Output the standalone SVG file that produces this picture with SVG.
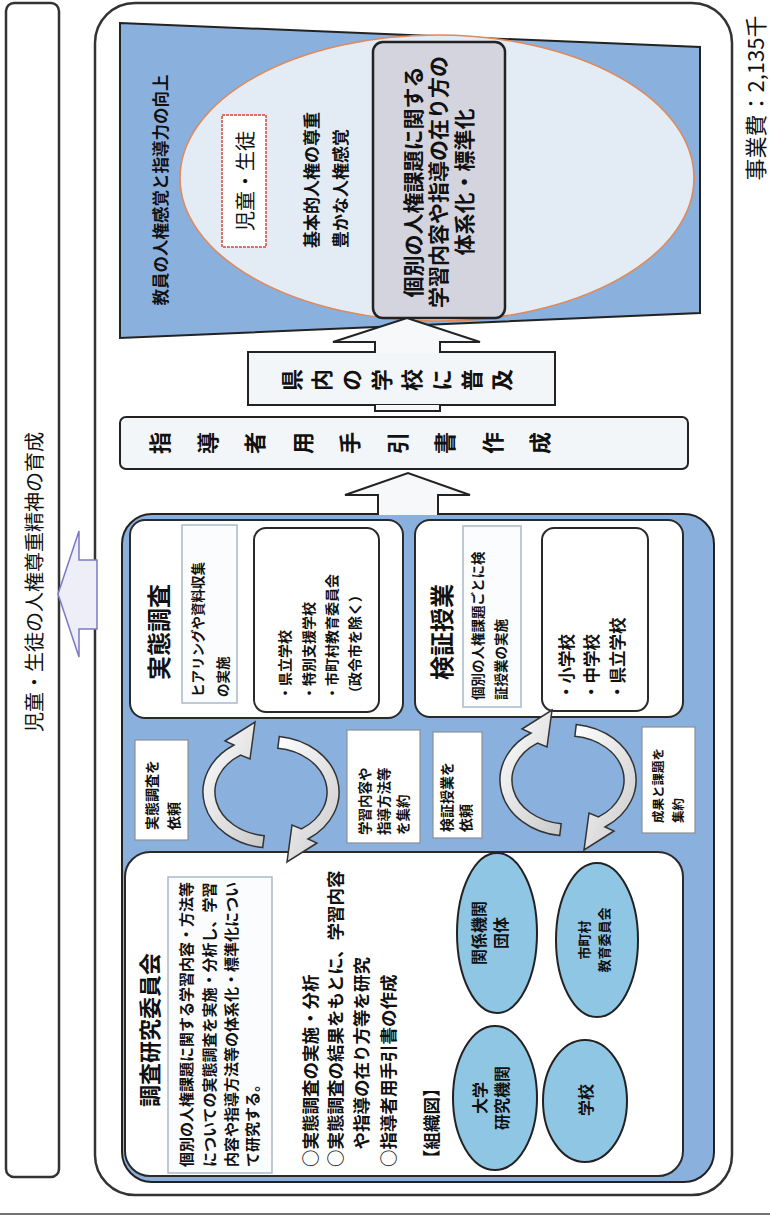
<svg xmlns="http://www.w3.org/2000/svg" width="770" height="1229" viewBox="0 0 770 1229">
<defs>
<style>
.t{font-family:'Noto Sans CJK JP','Noto Sans CJK SC',sans-serif;fill:#111;dominant-baseline:central}
.v{font-family:'Noto Sans CJK JP','Noto Sans CJK SC',sans-serif;fill:#111;writing-mode:vertical-rl;text-orientation:upright;font-weight:bold}
.b{font-weight:bold}
.frame{fill:#fff;stroke:#333;stroke-width:2.5}
.blue{fill:#8ab0de;stroke:#222;stroke-width:2}
.box{fill:#fff;stroke:#2a2a2a;stroke-width:2}
.lbl{fill:#fff;stroke:#8a8f96;stroke-width:1.2}
.sub{fill:#fbfcfd;stroke:#a9b9c9;stroke-width:1.5}
.org{fill:#8fc6e4;stroke:#222;stroke-width:2}
.blk{fill:#f3f6f8;stroke:#222;stroke-width:2}
.arc{fill:url(#arcg);stroke:#333;stroke-width:1.5}
</style>
<linearGradient id="arcg" x1="0" y1="0" x2="1" y2="1"><stop offset="0" stop-color="#ffffff"/><stop offset="1" stop-color="#c9c9c9"/></linearGradient>
<g id="cycle">
<path class="arc" d="M262.7,847.6 A68,56 0 0 1 234,745 L225,741 L255,722 L250,759 L240.5,755.1 A56,44 0 0 0 264.2,835.7 Z"/>
<path class="arc" d="M279.3,736.4 A68,56 0 0 1 308,839 L317,843 L287,862 L292,825 L301.5,828.9 A56,44 0 0 0 277.8,748.3 Z"/>
</g>
</defs>
<rect width="770" height="1229" fill="#fff"/>
<line x1="0" y1="1214" x2="770" y2="1214" stroke="#444" stroke-width="1.5"/>

<g id="title-band">
<rect class="frame" x="6" y="3" width="53" height="1174" rx="8"/>
<text class="t" transform="translate(33,582) rotate(-90)" font-size="20" text-anchor="middle">児童・生徒の人権尊重精神の育成</text>
</g>

<g id="cost">
<text class="t" transform="translate(754,98) rotate(-90)" font-size="22" text-anchor="middle">事業費：2,135千</text>
</g>

<g id="outer-frame">
<rect class="frame" x="95" y="3" width="637" height="1192" rx="40"/>
</g>

<g id="goal-area">
<polygon class="blue" points="120,23 700,47 700,313 120,338"/>
<ellipse cx="437" cy="178" rx="257" ry="143" fill="#e3ecf5" stroke="#e0895a" stroke-width="1.6"/>
<text class="t b" transform="translate(160,190) rotate(-90)" font-size="16.5" text-anchor="middle" fill="#222">教員の人権感覚と指導力の向上</text>
<rect x="222" y="115" width="44" height="132" fill="#fff" stroke="#d9473a" stroke-width="1.5" stroke-dasharray="3,1"/>
<text class="t" transform="translate(244,181) rotate(-90)" font-size="20" text-anchor="middle">児童・生徒</text>
<text class="t b" transform="translate(310,248) rotate(-90)" font-size="17"><tspan x="0" y="0">基本的人権の尊重</tspan><tspan x="0" y="29">豊かな人権感覚</tspan></text>
</g>

<g id="systematize-box">
<rect x="373" y="42" width="132" height="276" rx="10" fill="#d4d4df" stroke="#222" stroke-width="2.5"/>
<text class="t b" transform="translate(412,182) rotate(-90)" font-size="21" text-anchor="middle"><tspan x="0" y="0">個別の人権課題に関する</tspan><tspan x="0" y="25">学習内容や指導の在り方の</tspan><tspan x="0" y="51">体系化・標準化</tspan></text>
</g>

<g id="spread-box">
<rect class="blk" x="248" y="352" width="307" height="53" stroke-width="1.8"/>
<text class="v" transform="translate(281,380) rotate(-90)" x="0" y="0" font-size="22" letter-spacing="8">県内の学校に普及</text>
</g>

<g id="guide-box">
<rect class="blk" x="120" y="417" width="568" height="52" rx="6"/>
<text class="v" transform="translate(149,443) rotate(-90)" x="0" y="0" font-size="22" letter-spacing="25.5">指導者用手引書作成</text>
</g>

<g id="panel">
<rect class="blue" x="122" y="514" width="592" height="668" rx="30"/>
</g>

<g id="survey-box">
<rect class="box" x="130" y="520" width="273" height="198" rx="15"/>
<text class="t b" transform="translate(157,632) rotate(-90)" font-size="24" text-anchor="middle">実態調査</text>
<rect class="sub" x="182" y="525" width="55" height="178"/>
<text class="t b" transform="translate(197,697) rotate(-90)" font-size="13.5"><tspan x="0" y="0">ヒアリングや資料収集</tspan><tspan x="0" y="25">の実施</tspan></text>
<rect class="box" x="254" y="528" width="125" height="184" rx="12"/>
<text class="t b" transform="translate(284,700) rotate(-90)" font-size="14"><tspan x="0" y="0">・県立学校</tspan><tspan x="0" y="24">・特別支援学校</tspan><tspan x="0" y="47">・市町村教育委員会</tspan><tspan x="0" y="70">（政令市を除く）</tspan></text>
</g>

<g id="verify-box">
<rect class="box" x="415" y="520" width="268" height="197" rx="15"/>
<text class="t b" transform="translate(440,632) rotate(-90)" font-size="24" text-anchor="middle">検証授業</text>
<rect class="sub" x="463" y="526" width="58" height="181"/>
<text class="t b" transform="translate(477,700) rotate(-90)" font-size="13.5"><tspan x="0" y="0">個別の人権課題ごとに検</tspan><tspan x="0" y="23">証授業の実施</tspan></text>
<rect class="box" x="542" y="528" width="106" height="183" rx="12"/>
<text class="t b" transform="translate(566,700) rotate(-90)" font-size="16.5"><tspan x="0" y="0">・小学校</tspan><tspan x="0" y="25">・中学校</tspan><tspan x="0" y="51">・県立学校</tspan></text>
</g>

<g id="label-request-survey">
<rect class="lbl" x="135" y="740" width="53" height="100"/>
<text class="t b" transform="translate(151,830) rotate(-90)" font-size="14"><tspan x="0" y="0">実態調査を</tspan><tspan x="0" y="22">依頼</tspan></text>
</g>
<g id="label-collect">
<rect class="lbl" x="347" y="730" width="73" height="113"/>
<text class="t b" transform="translate(364,835) rotate(-90)" font-size="13.5"><tspan x="0" y="0">学習内容や</tspan><tspan x="0" y="19">指導方法等</tspan><tspan x="0" y="38">を集約</tspan></text>
</g>
<g id="label-request-verify">
<rect class="lbl" x="433" y="732" width="49" height="106"/>
<text class="t b" transform="translate(446,832) rotate(-90)" font-size="14"><tspan x="0" y="0">検証授業を</tspan><tspan x="0" y="19">依頼</tspan></text>
</g>
<g id="label-results">
<rect class="lbl" x="642" y="727" width="53" height="106"/>
<text class="t b" transform="translate(657,823) rotate(-90)" font-size="12.5"><tspan x="0" y="0">成果と課題を</tspan><tspan x="0" y="20">集約</tspan></text>
</g>

<g id="committee-box">
<rect class="box" x="125" y="852" width="558" height="324" rx="25"/>
<text class="t b" transform="translate(148,1030) rotate(-90)" font-size="22" text-anchor="middle">調査研究委員会</text>
<rect class="sub" x="168" y="877" width="104" height="296"/>
<text class="t b" transform="translate(185,1167) rotate(-90)" font-size="15"><tspan x="0" y="0">個別の人権課題に関する学習内容・方法等</tspan><tspan x="0" y="23">についての実態調査を実施・分析し、学習</tspan><tspan x="0" y="45">内容や指導方法等の体系化・標準化につい</tspan><tspan x="0" y="66">て研究する。</tspan></text>
<text class="t b" transform="translate(309,1167) rotate(-90)" font-size="17.5"><tspan x="0" y="0">○実態調査の実施・分析</tspan><tspan x="0" y="25">○実態調査の結果をもとに、学習内容</tspan><tspan x="17.5" y="51">や指導の在り方等を研究</tspan><tspan x="0" y="78">○指導者用手引書の作成</tspan><tspan x="0" y="121">【組織図】</tspan></text>
</g>

<g id="org-related">
<ellipse class="org" cx="497" cy="933" rx="40" ry="80"/>
<text class="t b" transform="translate(478,933) rotate(-90)" font-size="16" text-anchor="middle"><tspan x="0" y="0">関係機関</tspan><tspan x="0" y="22">団体</tspan></text>
</g>
<g id="org-municipal">
<ellipse class="org" cx="597" cy="940" rx="41" ry="77"/>
<text class="t b" transform="translate(583,940) rotate(-90)" font-size="13" text-anchor="middle"><tspan x="0" y="0">市町村</tspan><tspan x="0" y="20">教育委員会</tspan></text>
</g>
<g id="org-university">
<ellipse class="org" cx="495" cy="1098" rx="42" ry="72"/>
<text class="t b" transform="translate(479,1098) rotate(-90)" font-size="16" text-anchor="middle"><tspan x="0" y="0">大学</tspan><tspan x="0" y="22">研究機関</tspan></text>
</g>
<g id="org-school">
<ellipse class="org" cx="585" cy="1101" rx="42" ry="61"/>
<text class="t b" transform="translate(585,1100) rotate(-90)" font-size="16" text-anchor="middle">学校</text>
</g>

<g id="connectors">
<polygon points="58,594 79,531 79,560 97,560 97,629 79,629 79,657" fill="#eeeef8" stroke="#7b79c2" stroke-width="1.5"/>
<path d="M375,353 L375,342 L333,342 L407,318 L480,342 L440,342 L440,353" fill="#f6f8fa" stroke="#222" stroke-width="2"/>
<path d="M375,405 L375,411 L440,411 L440,405" fill="#f6f8fa" stroke="#222" stroke-width="2"/>
<path d="M378,515 L378,495 L345,495 L408,473 L470,495 L438,495 L438,515" fill="#f6f8fa" stroke="#222" stroke-width="2"/>
<use href="#cycle"/>
<use href="#cycle" transform="translate(297,-12)"/>
</g>
</svg>
